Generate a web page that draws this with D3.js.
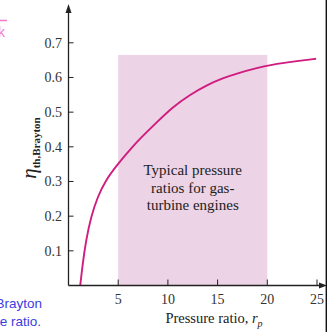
<!DOCTYPE html>
<html>
<head>
<meta charset="utf-8">
<script src="https://cdn.jsdelivr.net/npm/d3@7"></script>
<style>
  body { margin: 0; background: #fff; }
  svg { display: block; }
</style>
</head>
<body>
<div id="chart"></div>
<script>
// efficiency curve
var pressureRatio = [1.18, 1.43, 1.76, 2.26, 2.93, 3.77, 4.94, 6.44, 7.18, 8.85, 10.5, 12.2, 13.9, 15.5, 17.2, 18.9, 20.2, 23.2, 24.9];
var efficiency   = [0, 0.063, 0.13, 0.198, 0.256, 0.305, 0.35, 0.40, 0.423, 0.47, 0.515, 0.55, 0.578, 0.598, 0.614, 0.627, 0.636, 0.648, 0.654];
var xTicks = [5, 10, 15, 20, 25];
var yTicks = [0.1, 0.2, 0.3, 0.4, 0.5, 0.6, 0.7];
var typicalRange = [5, 20];
var typicalTop = 0.665;
var boxLines = ["Typical pressure", "ratios for gas-", "turbine engines"];

var W = 328, H = 332;
var svg = d3.select("#chart").append("svg")
  .attr("width", W)
  .attr("height", H);

var x = d3.scaleLinear().domain([0, 25]).range([68.5, 317]);
var y = d3.scaleLinear().domain([0, 0.7]).range([285.5, 42.8]);

var serif = "'Liberation Serif', 'Times New Roman', serif";
var sans = "'Liberation Sans', Arial, sans-serif";

// shaded band
svg.append("rect")
  .attr("x", x(typicalRange[0]))
  .attr("y", y(typicalTop))
  .attr("width", x(typicalRange[1]) - x(typicalRange[0]))
  .attr("height", y(0) - y(typicalTop))
  .attr("fill", "#ecd3e5");

// box text
svg.append("text")
  .attr("text-anchor", "middle")
  .attr("font-family", serif)
  .attr("font-size", 15)
  .attr("fill", "#222")
  .selectAll("tspan")
  .data(boxLines).enter()
  .append("tspan")
  .attr("x", x((typicalRange[0] + typicalRange[1]) / 2))
  .attr("y", function (d, i) { return 175 + i * 17.5; })
  .text(function (d) { return d; });

// curve
var pts = pressureRatio.map(function (r, i) { return [r, efficiency[i]]; });
svg.append("path")
  .datum(pts)
  .attr("fill", "none")
  .attr("stroke", "#d01c7e")
  .attr("stroke-width", 1.9)
  .attr("d", d3.line()
    .x(function (d) { return x(d[0]); })
    .y(function (d) { return y(d[1]); })
    .curve(d3.curveBasis));

// axes
var axisColor = "#222";
svg.append("line")
  .attr("x1", x(0)).attr("x2", x(0))
  .attr("y1", y(0)).attr("y2", 10)
  .attr("stroke", axisColor).attr("stroke-width", 1.3);
svg.append("path")
  .attr("d", "M" + x(0) + ",4 L" + (x(0) - 3) + ",13 L" + (x(0) + 3) + ",13 Z")
  .attr("fill", axisColor);

svg.append("line")
  .attr("x1", x(0)).attr("x2", 322)
  .attr("y1", y(0)).attr("y2", y(0))
  .attr("stroke", axisColor).attr("stroke-width", 1.3);
svg.append("path")
  .attr("d", "M327," + y(0) + " L319," + (y(0) - 3) + " L319," + (y(0) + 3) + " Z")
  .attr("fill", axisColor);

// right border line
svg.append("line")
  .attr("x1", 326.3).attr("x2", 326.3)
  .attr("y1", 0).attr("y2", H)
  .attr("stroke", "#111").attr("stroke-width", 1.4);

// x ticks
var xt = svg.append("g");
xt.selectAll("line").data(xTicks).enter().append("line")
  .attr("x1", function (d) { return x(d); })
  .attr("x2", function (d) { return x(d); })
  .attr("y1", y(0)).attr("y2", y(0) - 6)
  .attr("stroke", axisColor).attr("stroke-width", 1);
xt.selectAll("text").data(xTicks).enter().append("text")
  .attr("x", function (d) { return x(d); })
  .attr("y", 303.5)
  .attr("text-anchor", "middle")
  .attr("font-family", serif)
  .attr("font-size", 14)
  .attr("fill", "#333")
  .text(function (d) { return d; });

// y ticks
var yt = svg.append("g");
yt.selectAll("line").data(yTicks).enter().append("line")
  .attr("x1", x(0)).attr("x2", x(0) + 5)
  .attr("y1", function (d) { return y(d); })
  .attr("y2", function (d) { return y(d); })
  .attr("stroke", axisColor).attr("stroke-width", 1);
yt.selectAll("text").data(yTicks).enter().append("text")
  .attr("x", 62)
  .attr("y", function (d) { return y(d) + 5; })
  .attr("text-anchor", "end")
  .attr("font-family", serif)
  .attr("font-size", 14)
  .attr("fill", "#333")
  .text(function (d) { return d3.format(".1f")(d); });

// x axis title
var xl = svg.append("text")
  .attr("x", 214)
  .attr("y", 323)
  .attr("text-anchor", "middle")
  .attr("font-family", serif)
  .attr("font-size", 14.5)
  .attr("fill", "#222");
xl.append("tspan").text("Pressure ratio, ");
xl.append("tspan").attr("font-style", "italic").text("r");
xl.append("tspan").attr("font-style", "italic").attr("font-size", 10).attr("dy", 4).text("p");

// y axis title
var yl = svg.append("text")
  .attr("transform", "translate(36,148) rotate(-90)")
  .attr("text-anchor", "middle")
  .attr("font-family", serif)
  .attr("fill", "#222");
yl.append("tspan").attr("font-style", "italic").attr("font-size", 21).text("η");
yl.append("tspan").attr("font-size", 11).attr("font-weight", "bold").attr("dy", 4).text("th,Brayton");

// page fragments around the figure (cut by the frame, as in the source)
svg.append("line")
  .attr("x1", 0).attr("x2", 7)
  .attr("y1", 20.5).attr("y2", 20.5)
  .attr("stroke", "#f27bc8").attr("stroke-width", 1.5);
svg.append("text")
  .attr("x", 5).attr("y", 37)
  .attr("text-anchor", "end")
  .attr("font-family", sans)
  .attr("font-size", 14)
  .attr("fill", "#f27bc8")
  .text("k");

svg.append("text")
  .attr("x", 42).attr("y", 307.5)
  .attr("text-anchor", "end")
  .attr("font-family", sans)
  .attr("font-size", 13.5)
  .attr("fill", "#3b3ce0")
  .text("Brayton");
svg.append("text")
  .attr("x", 41).attr("y", 326)
  .attr("text-anchor", "end")
  .attr("font-family", sans)
  .attr("font-size", 13.5)
  .attr("fill", "#3b3ce0")
  .text("pressure ratio.");
</script>
</body>
</html>
